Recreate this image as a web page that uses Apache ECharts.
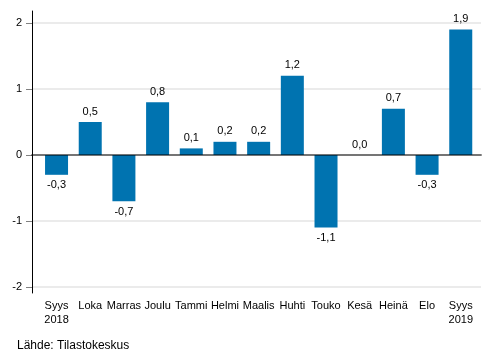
<!DOCTYPE html>
<html><head><meta charset="utf-8">
<script src="https://cdn.jsdelivr.net/npm/echarts@6/dist/echarts.min.js"></script>
<style>html,body{margin:0;padding:0;background:#fff}#c{width:493px;height:360px}</style>
</head><body><div id="c"></div>
<script>
var categories = ['Syys\n2018','Loka','Marras','Joulu','Tammi','Helmi','Maalis','Huhti','Touko','Kesä','Heinä','Elo','Syys\n2019'];
var values = [-0.3, 0.5, -0.7, 0.8, 0.1, 0.2, 0.2, 1.2, -1.1, 0.0, 0.7, -0.3, 1.9];
var yTicks = [-2, -1, 0, 1, 2];

var font = 'Liberation Sans, Arial, sans-serif';
var chart = echarts.init(document.getElementById('c'));
var barData = values.map(function (v) {
  return { value: v, label: { position: v < 0 ? 'bottom' : 'top' } };
});
chart.setOption({
  animation: false,
  title: { text: 'Lähde: Tilastokeskus', left: 12, top: 335,
    textStyle: { fontFamily: font, fontSize: 12, fontWeight: 'normal', color: '#000' } },
  grid: [
    { left: 32, right: 12, top: 11, bottom: 67 },
    { left: 32, right: 12, top: 23, bottom: 73 },
    { left: 39.7, right: 15.4, top: 23, bottom: 73 }
  ],
  xAxis: [
    { gridIndex: 0, type: 'value', show: false },
    { gridIndex: 1, type: 'category', data: categories, z: 5,
      axisLine: { show: true, onZero: true, lineStyle: { color: 'rgba(0,0,0,0.5)', width: 2 } },
      axisTick: { show: false }, axisLabel: { show: false }, splitLine: { show: false } },
    { gridIndex: 2, type: 'category', data: categories,
      axisLine: { show: false }, axisTick: { show: false },
      axisLabel: { margin: 12, fontFamily: font, fontSize: 11, color: '#000', lineHeight: 14, interval: 0 } }
  ],
  yAxis: [
    { gridIndex: 0, type: 'value', min: -2.08, max: 2.18,
      axisLine: { show: true, lineStyle: { color: '#000', width: 1 } },
      axisTick: { show: false }, axisLabel: { show: false }, splitLine: { show: false } },
    { gridIndex: 1, type: 'value', min: yTicks[0], max: yTicks[yTicks.length - 1], interval: 1,
      axisLine: { show: false },
      axisTick: { show: true, length: 6, lineStyle: { color: '#808080', width: 1 } },
      axisLabel: { margin: 10, fontFamily: font, fontSize: 11, color: '#000' },
      splitLine: { show: true, lineStyle: { color: '#ebebeb', width: 2 } } },
    { gridIndex: 2, type: 'value', min: yTicks[0], max: yTicks[yTicks.length - 1], show: false }
  ],
  series: [{
    type: 'bar', xAxisIndex: 2, yAxisIndex: 2, data: barData, barWidth: 23,
    itemStyle: { color: '#0073b0' },
    label: { show: true, distance: 5, fontFamily: font, fontSize: 11, color: '#000',
      formatter: function (p) { return p.value.toFixed(1).replace('.', ','); } }
  }]
});
</script></body></html>
